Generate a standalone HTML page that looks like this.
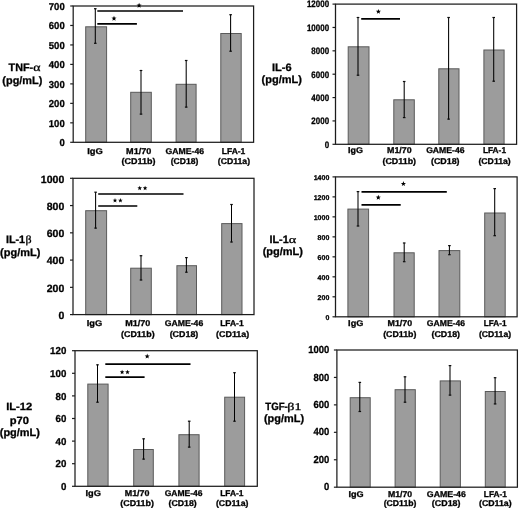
<!DOCTYPE html>
<html><head><meta charset="utf-8"><style>
html,body{margin:0;padding:0;background:#fff;}
svg{display:block;}
text{fill:#000;stroke:#000;stroke-width:0.3px;text-rendering:geometricPrecision;}
</style></head><body>
<svg width="520" height="509" viewBox="0 0 520 509" font-family="Liberation Sans, sans-serif">
<defs><filter id="b" filterUnits="userSpaceOnUse" x="0" y="0" width="520" height="509"><feGaussianBlur stdDeviation="0.35"/></filter></defs>
<rect width="520" height="509" fill="#fff"/>
<g filter="url(#b)">
<rect x="85.70" y="26.80" width="20.90" height="115.50" fill="#9c9c9c" stroke="#5a5a5a" stroke-width="1"/>
<rect x="130.70" y="92.30" width="20.60" height="50.00" fill="#9c9c9c" stroke="#5a5a5a" stroke-width="1"/>
<rect x="176.10" y="84.30" width="20.00" height="58.00" fill="#9c9c9c" stroke="#5a5a5a" stroke-width="1"/>
<rect x="220.80" y="33.50" width="20.40" height="108.80" fill="#9c9c9c" stroke="#5a5a5a" stroke-width="1"/>
<line x1="95.30" y1="8.40" x2="95.30" y2="43.60" stroke="#000" stroke-width="1.05"/>
<line x1="94.00" y1="8.70" x2="96.60" y2="8.70" stroke="#111" stroke-width="1.2"/>
<line x1="94.00" y1="43.30" x2="96.60" y2="43.30" stroke="#111" stroke-width="1.2"/>
<line x1="141.00" y1="70.20" x2="141.00" y2="114.40" stroke="#000" stroke-width="1.05"/>
<line x1="139.70" y1="70.50" x2="142.30" y2="70.50" stroke="#111" stroke-width="1.2"/>
<line x1="139.70" y1="114.10" x2="142.30" y2="114.10" stroke="#111" stroke-width="1.2"/>
<line x1="186.20" y1="60.20" x2="186.20" y2="107.40" stroke="#000" stroke-width="1.05"/>
<line x1="184.90" y1="60.50" x2="187.50" y2="60.50" stroke="#111" stroke-width="1.2"/>
<line x1="184.90" y1="107.10" x2="187.50" y2="107.10" stroke="#111" stroke-width="1.2"/>
<line x1="230.60" y1="14.40" x2="230.60" y2="51.50" stroke="#000" stroke-width="1.05"/>
<line x1="229.30" y1="14.70" x2="231.90" y2="14.70" stroke="#111" stroke-width="1.2"/>
<line x1="229.30" y1="51.20" x2="231.90" y2="51.20" stroke="#111" stroke-width="1.2"/>
<rect x="73.20" y="6.00" width="180.40" height="136.30" fill="none" stroke="#1e1e1e" stroke-width="1.25"/>
<line x1="70.20" y1="142.30" x2="73.20" y2="142.30" stroke="#1e1e1e" stroke-width="1.2"/>
<text transform="translate(59.41,146.24) scale(0.950,1)" font-family="Liberation Sans" font-weight="bold" font-size="10">0</text>
<line x1="70.20" y1="122.83" x2="73.20" y2="122.83" stroke="#1e1e1e" stroke-width="1.2"/>
<text transform="translate(48.84,126.77) scale(0.950,1)" font-family="Liberation Sans" font-weight="bold" font-size="10">100</text>
<line x1="70.20" y1="103.36" x2="73.20" y2="103.36" stroke="#1e1e1e" stroke-width="1.2"/>
<text transform="translate(48.84,107.30) scale(0.950,1)" font-family="Liberation Sans" font-weight="bold" font-size="10">200</text>
<line x1="70.20" y1="83.89" x2="73.20" y2="83.89" stroke="#1e1e1e" stroke-width="1.2"/>
<text transform="translate(48.84,87.83) scale(0.950,1)" font-family="Liberation Sans" font-weight="bold" font-size="10">300</text>
<line x1="70.20" y1="64.41" x2="73.20" y2="64.41" stroke="#1e1e1e" stroke-width="1.2"/>
<text transform="translate(48.84,68.35) scale(0.950,1)" font-family="Liberation Sans" font-weight="bold" font-size="10">400</text>
<line x1="70.20" y1="44.94" x2="73.20" y2="44.94" stroke="#1e1e1e" stroke-width="1.2"/>
<text transform="translate(48.84,48.88) scale(0.950,1)" font-family="Liberation Sans" font-weight="bold" font-size="10">500</text>
<line x1="70.20" y1="25.47" x2="73.20" y2="25.47" stroke="#1e1e1e" stroke-width="1.2"/>
<text transform="translate(48.84,29.41) scale(0.950,1)" font-family="Liberation Sans" font-weight="bold" font-size="10">600</text>
<line x1="70.20" y1="6.00" x2="73.20" y2="6.00" stroke="#1e1e1e" stroke-width="1.2"/>
<text transform="translate(48.84,9.94) scale(0.950,1)" font-family="Liberation Sans" font-weight="bold" font-size="10">700</text>
<line x1="97.30" y1="11.00" x2="183.00" y2="11.00" stroke="#000" stroke-width="1.7"/>
<line x1="97.30" y1="23.80" x2="136.90" y2="23.80" stroke="#000" stroke-width="1.7"/>
<polygon points="139.10,2.80 139.77,4.58 141.67,4.67 140.18,5.85 140.69,7.68 139.10,6.63 137.51,7.68 138.02,5.85 136.53,4.67 138.43,4.58" fill="#000"/>
<polygon points="114.00,15.80 114.67,17.58 116.57,17.67 115.08,18.85 115.59,20.68 114.00,19.63 112.41,20.68 112.92,18.85 111.43,17.67 113.33,17.58" fill="#000"/>
<text transform="translate(87.17,153.80) scale(1.115,1)" font-family="Liberation Sans" font-weight="bold" font-size="8.4">IgG</text>
<text transform="translate(126.09,153.80) scale(1.083,1)" font-family="Liberation Sans" font-weight="bold" font-size="8.4">M1/70</text>
<text transform="translate(121.55,164.30) scale(1.071,1)" font-family="Liberation Sans" font-weight="bold" font-size="8.4">(CD11b)</text>
<text transform="translate(165.54,153.80) scale(1.036,1)" font-family="Liberation Sans" font-weight="bold" font-size="8.4">GAME-46</text>
<text transform="translate(170.67,164.30) scale(1.022,1)" font-family="Liberation Sans" font-weight="bold" font-size="8.4">(CD18)</text>
<text transform="translate(221.73,153.80) scale(1.013,1)" font-family="Liberation Sans" font-weight="bold" font-size="8.4">LFA-1</text>
<text transform="translate(217.77,164.30) scale(1.035,1)" font-family="Liberation Sans" font-weight="bold" font-size="8.4">(CD11a)</text>
<text transform="translate(2.36,83.60) scale(1.010,1)" font-family="Liberation Sans" font-weight="bold" font-size="10.8">(pg/mL)</text>
<rect x="348.20" y="46.80" width="20.80" height="97.50" fill="#9c9c9c" stroke="#5a5a5a" stroke-width="1"/>
<rect x="393.80" y="99.80" width="20.50" height="44.50" fill="#9c9c9c" stroke="#5a5a5a" stroke-width="1"/>
<rect x="438.80" y="68.80" width="20.20" height="75.50" fill="#9c9c9c" stroke="#5a5a5a" stroke-width="1"/>
<rect x="483.90" y="50.00" width="20.20" height="94.30" fill="#9c9c9c" stroke="#5a5a5a" stroke-width="1"/>
<line x1="358.00" y1="17.20" x2="358.00" y2="75.50" stroke="#000" stroke-width="1.05"/>
<line x1="356.70" y1="17.50" x2="359.30" y2="17.50" stroke="#111" stroke-width="1.2"/>
<line x1="356.70" y1="75.20" x2="359.30" y2="75.20" stroke="#111" stroke-width="1.2"/>
<line x1="404.20" y1="81.20" x2="404.20" y2="117.90" stroke="#000" stroke-width="1.05"/>
<line x1="402.90" y1="81.50" x2="405.50" y2="81.50" stroke="#111" stroke-width="1.2"/>
<line x1="402.90" y1="117.60" x2="405.50" y2="117.60" stroke="#111" stroke-width="1.2"/>
<line x1="448.60" y1="17.20" x2="448.60" y2="119.40" stroke="#000" stroke-width="1.05"/>
<line x1="447.30" y1="17.50" x2="449.90" y2="17.50" stroke="#111" stroke-width="1.2"/>
<line x1="447.30" y1="119.10" x2="449.90" y2="119.10" stroke="#111" stroke-width="1.2"/>
<line x1="493.70" y1="17.20" x2="493.70" y2="81.50" stroke="#000" stroke-width="1.05"/>
<line x1="492.40" y1="17.50" x2="495.00" y2="17.50" stroke="#111" stroke-width="1.2"/>
<line x1="492.40" y1="81.20" x2="495.00" y2="81.20" stroke="#111" stroke-width="1.2"/>
<rect x="335.50" y="4.10" width="181.10" height="140.20" fill="none" stroke="#1e1e1e" stroke-width="1.25"/>
<line x1="332.50" y1="144.30" x2="335.50" y2="144.30" stroke="#1e1e1e" stroke-width="1.2"/>
<text transform="translate(324.68,147.63) scale(0.850,1)" font-family="Liberation Sans" font-weight="bold" font-size="9.4">0</text>
<line x1="332.50" y1="120.93" x2="335.50" y2="120.93" stroke="#1e1e1e" stroke-width="1.2"/>
<text transform="translate(311.35,124.27) scale(0.850,1)" font-family="Liberation Sans" font-weight="bold" font-size="9.4">2000</text>
<line x1="332.50" y1="97.57" x2="335.50" y2="97.57" stroke="#1e1e1e" stroke-width="1.2"/>
<text transform="translate(311.35,100.90) scale(0.850,1)" font-family="Liberation Sans" font-weight="bold" font-size="9.4">4000</text>
<line x1="332.50" y1="74.20" x2="335.50" y2="74.20" stroke="#1e1e1e" stroke-width="1.2"/>
<text transform="translate(311.35,77.53) scale(0.850,1)" font-family="Liberation Sans" font-weight="bold" font-size="9.4">6000</text>
<line x1="332.50" y1="50.83" x2="335.50" y2="50.83" stroke="#1e1e1e" stroke-width="1.2"/>
<text transform="translate(311.35,54.17) scale(0.850,1)" font-family="Liberation Sans" font-weight="bold" font-size="9.4">8000</text>
<line x1="332.50" y1="27.47" x2="335.50" y2="27.47" stroke="#1e1e1e" stroke-width="1.2"/>
<text transform="translate(306.91,30.80) scale(0.850,1)" font-family="Liberation Sans" font-weight="bold" font-size="9.4">10000</text>
<line x1="332.50" y1="4.10" x2="335.50" y2="4.10" stroke="#1e1e1e" stroke-width="1.2"/>
<text transform="translate(306.91,7.43) scale(0.850,1)" font-family="Liberation Sans" font-weight="bold" font-size="9.4">12000</text>
<line x1="361.20" y1="18.90" x2="400.00" y2="18.90" stroke="#000" stroke-width="1.7"/>
<polygon points="378.40,8.90 379.07,10.68 380.97,10.77 379.48,11.95 379.99,13.78 378.40,12.73 376.81,13.78 377.32,11.95 375.83,10.77 377.73,10.68" fill="#000"/>
<text transform="translate(348.10,153.30) scale(1.068,1)" font-family="Liberation Sans" font-weight="bold" font-size="8.4">IgG</text>
<text transform="translate(387.01,153.30) scale(1.056,1)" font-family="Liberation Sans" font-weight="bold" font-size="8.4">M1/70</text>
<text transform="translate(382.46,164.10) scale(1.062,1)" font-family="Liberation Sans" font-weight="bold" font-size="8.4">(CD11b)</text>
<text transform="translate(426.15,153.30) scale(1.030,1)" font-family="Liberation Sans" font-weight="bold" font-size="8.4">GAME-46</text>
<text transform="translate(430.96,164.10) scale(1.060,1)" font-family="Liberation Sans" font-weight="bold" font-size="8.4">(CD18)</text>
<text transform="translate(482.94,153.30) scale(0.991,1)" font-family="Liberation Sans" font-weight="bold" font-size="8.4">LFA-1</text>
<text transform="translate(478.47,164.10) scale(1.035,1)" font-family="Liberation Sans" font-weight="bold" font-size="8.4">(CD11a)</text>
<text transform="translate(271.96,70.50) scale(1.023,1)" font-family="Liberation Sans" font-weight="bold" font-size="10.8">IL-6</text>
<text transform="translate(261.55,83.20) scale(1.018,1)" font-family="Liberation Sans" font-weight="bold" font-size="10.8">(pg/mL)</text>
<rect x="85.70" y="210.70" width="20.90" height="103.90" fill="#9c9c9c" stroke="#5a5a5a" stroke-width="1"/>
<rect x="130.70" y="268.20" width="20.60" height="46.40" fill="#9c9c9c" stroke="#5a5a5a" stroke-width="1"/>
<rect x="176.90" y="265.70" width="19.60" height="48.90" fill="#9c9c9c" stroke="#5a5a5a" stroke-width="1"/>
<rect x="221.70" y="223.60" width="20.30" height="91.00" fill="#9c9c9c" stroke="#5a5a5a" stroke-width="1"/>
<line x1="95.60" y1="191.90" x2="95.60" y2="228.40" stroke="#000" stroke-width="1.05"/>
<line x1="94.30" y1="192.20" x2="96.90" y2="192.20" stroke="#111" stroke-width="1.2"/>
<line x1="94.30" y1="228.10" x2="96.90" y2="228.10" stroke="#111" stroke-width="1.2"/>
<line x1="141.00" y1="255.40" x2="141.00" y2="280.30" stroke="#000" stroke-width="1.05"/>
<line x1="139.70" y1="255.70" x2="142.30" y2="255.70" stroke="#111" stroke-width="1.2"/>
<line x1="139.70" y1="280.00" x2="142.30" y2="280.00" stroke="#111" stroke-width="1.2"/>
<line x1="186.40" y1="257.30" x2="186.40" y2="272.50" stroke="#000" stroke-width="1.05"/>
<line x1="185.10" y1="257.60" x2="187.70" y2="257.60" stroke="#111" stroke-width="1.2"/>
<line x1="185.10" y1="272.20" x2="187.70" y2="272.20" stroke="#111" stroke-width="1.2"/>
<line x1="231.50" y1="204.20" x2="231.50" y2="242.30" stroke="#000" stroke-width="1.05"/>
<line x1="230.20" y1="204.50" x2="232.80" y2="204.50" stroke="#111" stroke-width="1.2"/>
<line x1="230.20" y1="242.00" x2="232.80" y2="242.00" stroke="#111" stroke-width="1.2"/>
<rect x="73.00" y="178.30" width="181.00" height="136.30" fill="none" stroke="#1e1e1e" stroke-width="1.25"/>
<line x1="70.00" y1="314.60" x2="73.00" y2="314.60" stroke="#1e1e1e" stroke-width="1.2"/>
<text transform="translate(58.39,318.91) scale(1.000,1)" font-family="Liberation Sans" font-weight="bold" font-size="10.5">0</text>
<line x1="70.00" y1="287.34" x2="73.00" y2="287.34" stroke="#1e1e1e" stroke-width="1.2"/>
<text transform="translate(46.71,291.65) scale(1.000,1)" font-family="Liberation Sans" font-weight="bold" font-size="10.5">200</text>
<line x1="70.00" y1="260.08" x2="73.00" y2="260.08" stroke="#1e1e1e" stroke-width="1.2"/>
<text transform="translate(46.71,264.39) scale(1.000,1)" font-family="Liberation Sans" font-weight="bold" font-size="10.5">400</text>
<line x1="70.00" y1="232.82" x2="73.00" y2="232.82" stroke="#1e1e1e" stroke-width="1.2"/>
<text transform="translate(46.71,237.13) scale(1.000,1)" font-family="Liberation Sans" font-weight="bold" font-size="10.5">600</text>
<line x1="70.00" y1="205.56" x2="73.00" y2="205.56" stroke="#1e1e1e" stroke-width="1.2"/>
<text transform="translate(46.71,209.87) scale(1.000,1)" font-family="Liberation Sans" font-weight="bold" font-size="10.5">800</text>
<line x1="70.00" y1="178.30" x2="73.00" y2="178.30" stroke="#1e1e1e" stroke-width="1.2"/>
<text transform="translate(40.87,182.61) scale(1.000,1)" font-family="Liberation Sans" font-weight="bold" font-size="10.5">1000</text>
<line x1="98.20" y1="194.00" x2="183.50" y2="194.00" stroke="#000" stroke-width="1.7"/>
<line x1="98.20" y1="206.00" x2="137.30" y2="206.00" stroke="#000" stroke-width="1.7"/>
<polygon points="139.70,185.75 140.30,187.37 142.03,187.44 140.68,188.52 141.14,190.18 139.70,189.23 138.26,190.18 138.72,188.52 137.37,187.44 139.10,187.37" fill="#000"/>
<polygon points="145.10,185.75 145.70,187.37 147.43,187.44 146.08,188.52 146.54,190.18 145.10,189.23 143.66,190.18 144.12,188.52 142.77,187.44 144.50,187.37" fill="#000"/>
<polygon points="115.00,198.05 115.60,199.67 117.33,199.74 115.98,200.82 116.44,202.48 115.00,201.53 113.56,202.48 114.02,200.82 112.67,199.74 114.40,199.67" fill="#000"/>
<polygon points="120.40,198.05 121.00,199.67 122.73,199.74 121.38,200.82 121.84,202.48 120.40,201.53 118.96,202.48 119.42,200.82 118.07,199.74 119.80,199.67" fill="#000"/>
<text transform="translate(86.68,326.40) scale(1.107,1)" font-family="Liberation Sans" font-weight="bold" font-size="8.4">IgG</text>
<text transform="translate(125.29,326.40) scale(1.078,1)" font-family="Liberation Sans" font-weight="bold" font-size="8.4">M1/70</text>
<text transform="translate(121.06,336.80) scale(1.062,1)" font-family="Liberation Sans" font-weight="bold" font-size="8.4">(CD11b)</text>
<text transform="translate(164.64,326.40) scale(1.036,1)" font-family="Liberation Sans" font-weight="bold" font-size="8.4">GAME-46</text>
<text transform="translate(169.66,336.80) scale(1.060,1)" font-family="Liberation Sans" font-weight="bold" font-size="8.4">(CD18)</text>
<text transform="translate(220.13,326.40) scale(1.009,1)" font-family="Liberation Sans" font-weight="bold" font-size="8.4">LFA-1</text>
<text transform="translate(216.05,336.80) scale(1.065,1)" font-family="Liberation Sans" font-weight="bold" font-size="8.4">(CD11a)</text>
<text transform="translate(0.05,255.80) scale(1.018,1)" font-family="Liberation Sans" font-weight="bold" font-size="10.8">(pg/mL)</text>
<rect x="347.90" y="209.10" width="20.70" height="107.70" fill="#9c9c9c" stroke="#5a5a5a" stroke-width="1"/>
<rect x="394.00" y="252.80" width="20.20" height="64.00" fill="#9c9c9c" stroke="#5a5a5a" stroke-width="1"/>
<rect x="439.00" y="250.60" width="20.80" height="66.20" fill="#9c9c9c" stroke="#5a5a5a" stroke-width="1"/>
<rect x="484.70" y="213.00" width="20.50" height="103.80" fill="#9c9c9c" stroke="#5a5a5a" stroke-width="1"/>
<line x1="358.00" y1="191.30" x2="358.00" y2="226.30" stroke="#000" stroke-width="1.05"/>
<line x1="356.70" y1="191.60" x2="359.30" y2="191.60" stroke="#111" stroke-width="1.2"/>
<line x1="356.70" y1="226.00" x2="359.30" y2="226.00" stroke="#111" stroke-width="1.2"/>
<line x1="404.20" y1="242.70" x2="404.20" y2="262.00" stroke="#000" stroke-width="1.05"/>
<line x1="402.90" y1="243.00" x2="405.50" y2="243.00" stroke="#111" stroke-width="1.2"/>
<line x1="402.90" y1="261.70" x2="405.50" y2="261.70" stroke="#111" stroke-width="1.2"/>
<line x1="449.40" y1="245.30" x2="449.40" y2="255.00" stroke="#000" stroke-width="1.05"/>
<line x1="448.10" y1="245.60" x2="450.70" y2="245.60" stroke="#111" stroke-width="1.2"/>
<line x1="448.10" y1="254.70" x2="450.70" y2="254.70" stroke="#111" stroke-width="1.2"/>
<line x1="494.70" y1="188.30" x2="494.70" y2="236.00" stroke="#000" stroke-width="1.05"/>
<line x1="493.40" y1="188.60" x2="496.00" y2="188.60" stroke="#111" stroke-width="1.2"/>
<line x1="493.40" y1="235.70" x2="496.00" y2="235.70" stroke="#111" stroke-width="1.2"/>
<rect x="335.50" y="176.90" width="181.60" height="139.90" fill="none" stroke="#1e1e1e" stroke-width="1.25"/>
<line x1="332.50" y1="316.80" x2="335.50" y2="316.80" stroke="#1e1e1e" stroke-width="1.2"/>
<text transform="translate(325.39,319.51) scale(1.000,1)" font-family="Liberation Sans" font-weight="bold" font-size="7.0">0</text>
<line x1="332.50" y1="296.81" x2="335.50" y2="296.81" stroke="#1e1e1e" stroke-width="1.2"/>
<text transform="translate(317.61,299.52) scale(1.000,1)" font-family="Liberation Sans" font-weight="bold" font-size="7.0">200</text>
<line x1="332.50" y1="276.83" x2="335.50" y2="276.83" stroke="#1e1e1e" stroke-width="1.2"/>
<text transform="translate(317.61,279.54) scale(1.000,1)" font-family="Liberation Sans" font-weight="bold" font-size="7.0">400</text>
<line x1="332.50" y1="256.84" x2="335.50" y2="256.84" stroke="#1e1e1e" stroke-width="1.2"/>
<text transform="translate(317.61,259.55) scale(1.000,1)" font-family="Liberation Sans" font-weight="bold" font-size="7.0">600</text>
<line x1="332.50" y1="236.86" x2="335.50" y2="236.86" stroke="#1e1e1e" stroke-width="1.2"/>
<text transform="translate(317.61,239.57) scale(1.000,1)" font-family="Liberation Sans" font-weight="bold" font-size="7.0">800</text>
<line x1="332.50" y1="216.87" x2="335.50" y2="216.87" stroke="#1e1e1e" stroke-width="1.2"/>
<text transform="translate(313.71,219.58) scale(1.000,1)" font-family="Liberation Sans" font-weight="bold" font-size="7.0">1000</text>
<line x1="332.50" y1="196.89" x2="335.50" y2="196.89" stroke="#1e1e1e" stroke-width="1.2"/>
<text transform="translate(313.71,199.59) scale(1.000,1)" font-family="Liberation Sans" font-weight="bold" font-size="7.0">1200</text>
<line x1="332.50" y1="176.90" x2="335.50" y2="176.90" stroke="#1e1e1e" stroke-width="1.2"/>
<text transform="translate(313.71,179.61) scale(1.000,1)" font-family="Liberation Sans" font-weight="bold" font-size="7.0">1400</text>
<line x1="361.50" y1="191.80" x2="446.80" y2="191.80" stroke="#000" stroke-width="1.7"/>
<line x1="361.50" y1="204.80" x2="400.70" y2="204.80" stroke="#000" stroke-width="1.7"/>
<polygon points="403.40,181.10 404.07,182.88 405.97,182.97 404.48,184.15 404.99,185.98 403.40,184.93 401.81,185.98 402.32,184.15 400.83,182.97 402.73,182.88" fill="#000"/>
<polygon points="378.30,194.80 378.97,196.58 380.87,196.67 379.38,197.85 379.89,199.68 378.30,198.63 376.71,199.68 377.22,197.85 375.73,196.67 377.63,196.58" fill="#000"/>
<text transform="translate(348.09,326.40) scale(1.092,1)" font-family="Liberation Sans" font-weight="bold" font-size="8.4">IgG</text>
<text transform="translate(387.51,326.40) scale(1.056,1)" font-family="Liberation Sans" font-weight="bold" font-size="8.4">M1/70</text>
<text transform="translate(383.16,336.80) scale(1.049,1)" font-family="Liberation Sans" font-weight="bold" font-size="8.4">(CD11b)</text>
<text transform="translate(426.85,326.40) scale(1.025,1)" font-family="Liberation Sans" font-weight="bold" font-size="8.4">GAME-46</text>
<text transform="translate(431.46,336.80) scale(1.060,1)" font-family="Liberation Sans" font-weight="bold" font-size="8.4">(CD18)</text>
<text transform="translate(483.85,326.40) scale(0.974,1)" font-family="Liberation Sans" font-weight="bold" font-size="8.4">LFA-1</text>
<text transform="translate(478.97,336.80) scale(1.029,1)" font-family="Liberation Sans" font-weight="bold" font-size="8.4">(CD11a)</text>
<text transform="translate(262.65,255.20) scale(1.020,1)" font-family="Liberation Sans" font-weight="bold" font-size="10.8">(pg/mL)</text>
<rect x="87.80" y="384.10" width="20.30" height="102.20" fill="#9c9c9c" stroke="#5a5a5a" stroke-width="1"/>
<rect x="133.70" y="449.50" width="19.60" height="36.80" fill="#9c9c9c" stroke="#5a5a5a" stroke-width="1"/>
<rect x="178.90" y="434.70" width="20.20" height="51.60" fill="#9c9c9c" stroke="#5a5a5a" stroke-width="1"/>
<rect x="224.70" y="397.20" width="19.90" height="89.10" fill="#9c9c9c" stroke="#5a5a5a" stroke-width="1"/>
<line x1="97.50" y1="364.50" x2="97.50" y2="402.50" stroke="#000" stroke-width="1.05"/>
<line x1="96.20" y1="364.80" x2="98.80" y2="364.80" stroke="#111" stroke-width="1.2"/>
<line x1="96.20" y1="402.20" x2="98.80" y2="402.20" stroke="#111" stroke-width="1.2"/>
<line x1="143.60" y1="438.50" x2="143.60" y2="459.40" stroke="#000" stroke-width="1.05"/>
<line x1="142.30" y1="438.80" x2="144.90" y2="438.80" stroke="#111" stroke-width="1.2"/>
<line x1="142.30" y1="459.10" x2="144.90" y2="459.10" stroke="#111" stroke-width="1.2"/>
<line x1="189.20" y1="420.90" x2="189.20" y2="447.40" stroke="#000" stroke-width="1.05"/>
<line x1="187.90" y1="421.20" x2="190.50" y2="421.20" stroke="#111" stroke-width="1.2"/>
<line x1="187.90" y1="447.10" x2="190.50" y2="447.10" stroke="#111" stroke-width="1.2"/>
<line x1="234.50" y1="372.40" x2="234.50" y2="421.50" stroke="#000" stroke-width="1.05"/>
<line x1="233.20" y1="372.70" x2="235.80" y2="372.70" stroke="#111" stroke-width="1.2"/>
<line x1="233.20" y1="421.20" x2="235.80" y2="421.20" stroke="#111" stroke-width="1.2"/>
<rect x="75.00" y="350.70" width="182.30" height="135.60" fill="none" stroke="#1e1e1e" stroke-width="1.25"/>
<line x1="72.00" y1="486.30" x2="75.00" y2="486.30" stroke="#1e1e1e" stroke-width="1.2"/>
<text transform="translate(60.90,490.04) scale(0.970,1)" font-family="Liberation Sans" font-weight="bold" font-size="10">0</text>
<line x1="72.00" y1="463.70" x2="75.00" y2="463.70" stroke="#1e1e1e" stroke-width="1.2"/>
<text transform="translate(55.51,467.44) scale(0.970,1)" font-family="Liberation Sans" font-weight="bold" font-size="10">20</text>
<line x1="72.00" y1="441.10" x2="75.00" y2="441.10" stroke="#1e1e1e" stroke-width="1.2"/>
<text transform="translate(55.51,444.84) scale(0.970,1)" font-family="Liberation Sans" font-weight="bold" font-size="10">40</text>
<line x1="72.00" y1="418.50" x2="75.00" y2="418.50" stroke="#1e1e1e" stroke-width="1.2"/>
<text transform="translate(55.51,422.24) scale(0.970,1)" font-family="Liberation Sans" font-weight="bold" font-size="10">60</text>
<line x1="72.00" y1="395.90" x2="75.00" y2="395.90" stroke="#1e1e1e" stroke-width="1.2"/>
<text transform="translate(55.51,399.64) scale(0.970,1)" font-family="Liberation Sans" font-weight="bold" font-size="10">80</text>
<line x1="72.00" y1="373.30" x2="75.00" y2="373.30" stroke="#1e1e1e" stroke-width="1.2"/>
<text transform="translate(50.11,377.04) scale(0.970,1)" font-family="Liberation Sans" font-weight="bold" font-size="10">100</text>
<line x1="72.00" y1="350.70" x2="75.00" y2="350.70" stroke="#1e1e1e" stroke-width="1.2"/>
<text transform="translate(50.11,354.44) scale(0.970,1)" font-family="Liberation Sans" font-weight="bold" font-size="10">120</text>
<line x1="105.30" y1="364.10" x2="190.50" y2="364.10" stroke="#000" stroke-width="1.7"/>
<line x1="105.30" y1="377.10" x2="144.60" y2="377.10" stroke="#000" stroke-width="1.7"/>
<polygon points="147.20,353.60 147.87,355.38 149.77,355.47 148.28,356.65 148.79,358.48 147.20,357.43 145.61,358.48 146.12,356.65 144.63,355.47 146.53,355.38" fill="#000"/>
<polygon points="122.10,369.75 122.70,371.37 124.43,371.44 123.08,372.52 123.54,374.18 122.10,373.23 120.66,374.18 121.12,372.52 119.77,371.44 121.50,371.37" fill="#000"/>
<polygon points="127.50,369.75 128.10,371.37 129.83,371.44 128.48,372.52 128.94,374.18 127.50,373.23 126.06,374.18 126.52,372.52 125.17,371.44 126.90,371.37" fill="#000"/>
<text transform="translate(85.48,495.90) scale(1.107,1)" font-family="Liberation Sans" font-weight="bold" font-size="8.4">IgG</text>
<text transform="translate(124.70,495.90) scale(1.065,1)" font-family="Liberation Sans" font-weight="bold" font-size="8.4">M1/70</text>
<text transform="translate(120.25,506.00) scale(1.065,1)" font-family="Liberation Sans" font-weight="bold" font-size="8.4">(CD11b)</text>
<text transform="translate(164.65,495.90) scale(1.019,1)" font-family="Liberation Sans" font-weight="bold" font-size="8.4">GAME-46</text>
<text transform="translate(168.56,506.00) scale(1.044,1)" font-family="Liberation Sans" font-weight="bold" font-size="8.4">(CD18)</text>
<text transform="translate(220.14,495.90) scale(1.004,1)" font-family="Liberation Sans" font-weight="bold" font-size="8.4">LFA-1</text>
<text transform="translate(215.97,506.00) scale(1.039,1)" font-family="Liberation Sans" font-weight="bold" font-size="8.4">(CD11a)</text>
<text transform="translate(6.16,409.90) scale(1.061,1)" font-family="Liberation Sans" font-weight="bold" font-size="10.5">IL-12</text>
<text transform="translate(9.67,423.60) scale(1.061,1)" font-family="Liberation Sans" font-weight="bold" font-size="10.5">p70</text>
<text transform="translate(-0.25,436.20) scale(1.015,1)" font-family="Liberation Sans" font-weight="bold" font-size="10.8">(pg/mL)</text>
<rect x="350.20" y="397.70" width="20.00" height="89.50" fill="#9c9c9c" stroke="#5a5a5a" stroke-width="1"/>
<rect x="395.10" y="389.70" width="20.20" height="97.50" fill="#9c9c9c" stroke="#5a5a5a" stroke-width="1"/>
<rect x="440.20" y="380.90" width="20.20" height="106.30" fill="#9c9c9c" stroke="#5a5a5a" stroke-width="1"/>
<rect x="485.30" y="391.50" width="19.90" height="95.70" fill="#9c9c9c" stroke="#5a5a5a" stroke-width="1"/>
<line x1="359.80" y1="382.10" x2="359.80" y2="411.80" stroke="#000" stroke-width="1.05"/>
<line x1="358.50" y1="382.40" x2="361.10" y2="382.40" stroke="#111" stroke-width="1.2"/>
<line x1="358.50" y1="411.50" x2="361.10" y2="411.50" stroke="#111" stroke-width="1.2"/>
<line x1="405.00" y1="376.50" x2="405.00" y2="402.50" stroke="#000" stroke-width="1.05"/>
<line x1="403.70" y1="376.80" x2="406.30" y2="376.80" stroke="#111" stroke-width="1.2"/>
<line x1="403.70" y1="402.20" x2="406.30" y2="402.20" stroke="#111" stroke-width="1.2"/>
<line x1="450.00" y1="365.30" x2="450.00" y2="395.40" stroke="#000" stroke-width="1.05"/>
<line x1="448.70" y1="365.60" x2="451.30" y2="365.60" stroke="#111" stroke-width="1.2"/>
<line x1="448.70" y1="395.10" x2="451.30" y2="395.10" stroke="#111" stroke-width="1.2"/>
<line x1="495.10" y1="377.40" x2="495.10" y2="404.20" stroke="#000" stroke-width="1.05"/>
<line x1="493.80" y1="377.70" x2="496.40" y2="377.70" stroke="#111" stroke-width="1.2"/>
<line x1="493.80" y1="403.90" x2="496.40" y2="403.90" stroke="#111" stroke-width="1.2"/>
<rect x="336.90" y="350.00" width="180.50" height="137.20" fill="none" stroke="#1e1e1e" stroke-width="1.25"/>
<line x1="333.90" y1="487.20" x2="336.90" y2="487.20" stroke="#1e1e1e" stroke-width="1.2"/>
<text transform="translate(324.02,490.34) scale(0.920,1)" font-family="Liberation Sans" font-weight="bold" font-size="10.3">0</text>
<line x1="333.90" y1="459.76" x2="336.90" y2="459.76" stroke="#1e1e1e" stroke-width="1.2"/>
<text transform="translate(313.48,462.90) scale(0.920,1)" font-family="Liberation Sans" font-weight="bold" font-size="10.3">200</text>
<line x1="333.90" y1="432.32" x2="336.90" y2="432.32" stroke="#1e1e1e" stroke-width="1.2"/>
<text transform="translate(313.48,435.46) scale(0.920,1)" font-family="Liberation Sans" font-weight="bold" font-size="10.3">400</text>
<line x1="333.90" y1="404.88" x2="336.90" y2="404.88" stroke="#1e1e1e" stroke-width="1.2"/>
<text transform="translate(313.48,408.02) scale(0.920,1)" font-family="Liberation Sans" font-weight="bold" font-size="10.3">600</text>
<line x1="333.90" y1="377.44" x2="336.90" y2="377.44" stroke="#1e1e1e" stroke-width="1.2"/>
<text transform="translate(313.48,380.58) scale(0.920,1)" font-family="Liberation Sans" font-weight="bold" font-size="10.3">800</text>
<line x1="333.90" y1="350.00" x2="336.90" y2="350.00" stroke="#1e1e1e" stroke-width="1.2"/>
<text transform="translate(308.21,353.14) scale(0.920,1)" font-family="Liberation Sans" font-weight="bold" font-size="10.3">1000</text>
<text transform="translate(348.39,496.60) scale(1.084,1)" font-family="Liberation Sans" font-weight="bold" font-size="8.4">IgG</text>
<text transform="translate(387.92,496.60) scale(1.038,1)" font-family="Liberation Sans" font-weight="bold" font-size="8.4">M1/70</text>
<text transform="translate(383.67,506.30) scale(1.033,1)" font-family="Liberation Sans" font-weight="bold" font-size="8.4">(CD11b)</text>
<text transform="translate(426.84,496.60) scale(1.047,1)" font-family="Liberation Sans" font-weight="bold" font-size="8.4">GAME-46</text>
<text transform="translate(431.86,506.30) scale(1.060,1)" font-family="Liberation Sans" font-weight="bold" font-size="8.4">(CD18)</text>
<text transform="translate(483.84,496.60) scale(0.991,1)" font-family="Liberation Sans" font-weight="bold" font-size="8.4">LFA-1</text>
<text transform="translate(478.96,506.30) scale(1.048,1)" font-family="Liberation Sans" font-weight="bold" font-size="8.4">(CD11a)</text>
<text transform="translate(263.96,422.10) scale(1.013,1)" font-family="Liberation Sans" font-weight="bold" font-size="10.8">(pg/mL)</text>
<text transform="translate(8.58,70.70) scale(1.000,1)" font-family="Liberation Sans" font-weight="bold" font-size="10.8">TNF-</text>
<text transform="translate(33.27,70.70) scale(1.201,1)" font-family="Liberation Serif" font-weight="normal" font-size="11.5">α</text>
<text transform="translate(5.88,242.80) scale(1.000,1)" font-family="Liberation Sans" font-weight="bold" font-size="10.8">IL-1</text>
<text transform="translate(25.53,242.80) scale(1.106,1)" font-family="Liberation Serif" font-weight="normal" font-size="10.8">β</text>
<text transform="translate(269.48,242.70) scale(1.000,1)" font-family="Liberation Sans" font-weight="bold" font-size="10.8">IL-1</text>
<text transform="translate(288.66,242.70) scale(1.356,1)" font-family="Liberation Serif" font-weight="normal" font-size="10.5">α</text>
<text transform="translate(265.29,409.90) scale(0.910,1)" font-family="Liberation Sans" font-weight="bold" font-size="10.6">TGF-</text>
<text transform="translate(287.30,409.90) scale(1.361,1)" font-family="Liberation Serif" font-weight="normal" font-size="10.3">β1</text>
</g>
</svg>
</body></html>
